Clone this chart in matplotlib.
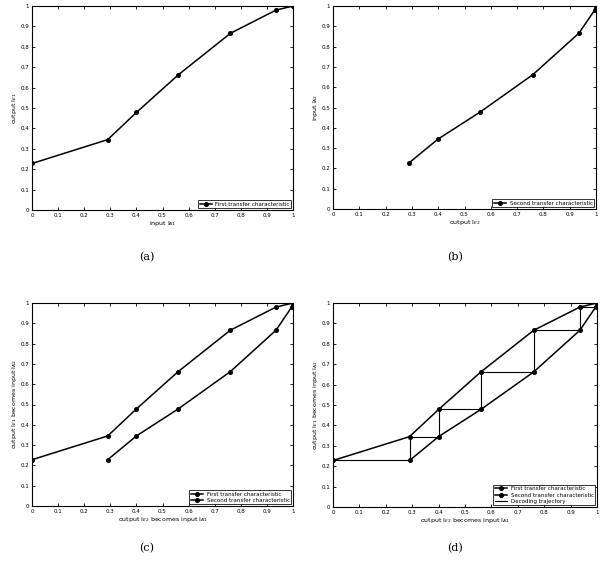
import matplotlib
matplotlib.use("Agg")
import matplotlib.pyplot as plt

# first transfer characteristic: input I_A1 -> output I_E1
first_x = [0.0, 0.29, 0.40, 0.56, 0.76, 0.935, 1.0]
first_y = [0.228, 0.345, 0.478, 0.662, 0.866, 0.98, 1.0]

# second transfer characteristic: output I_E2 vs input I_A2
second_x = [0.29, 0.40, 0.56, 0.76, 0.935, 0.995, 1.0]
second_y = [0.228, 0.345, 0.478, 0.662, 0.866, 0.98, 1.0]

ticks = [0, 0.1, 0.2, 0.3, 0.4, 0.5, 0.6, 0.7, 0.8, 0.9, 1]
tick_labels = ["0", "0.1", "0.2", "0.3", "0.4", "0.5", "0.6", "0.7", "0.8", "0.9", "1"]


def trajectory(fx, fy, sx):
    # staircase between the two curves
    tx, ty = [fx[0]], [fy[0]]
    for i in range(len(sx)):
        tx.append(sx[i]); ty.append(ty[-1])
        tx.append(sx[i]); ty.append(fy[i + 1] if i + 1 < len(fy) else fy[-1])
    return tx, ty


def style(ax, xlabel, ylabel):
    ax.set_xlim(0, 1)
    ax.set_ylim(0, 1)
    ax.set_xticks(ticks)
    ax.set_yticks(ticks)
    ax.set_xticklabels(tick_labels)
    ax.set_yticklabels(tick_labels)
    ax.tick_params(direction="in", length=2, width=0.6, labelsize=4,
                   top=True, right=True, pad=2)
    ax.set_xlabel(xlabel, fontsize=4.5, labelpad=1)
    ax.set_ylabel(ylabel, fontsize=4.5, labelpad=1)
    for s in ax.spines.values():
        s.set_linewidth(0.8)


def legend(ax):
    leg = ax.legend(loc="lower right", fontsize=4, frameon=True, fancybox=False,
                    borderpad=0.3, handlelength=2.2, labelspacing=0.2, numpoints=1,
                    borderaxespad=0.3, handletextpad=0.6)
    leg.get_frame().set_edgecolor("black")
    leg.get_frame().set_linewidth(0.7)


line_kw = dict(color="black", lw=1.1, marker="o", ms=2.6)

fig = plt.figure(figsize=(6.05, 5.74), dpi=100)
W, H = 605, 574
boxes = {"a": (32, 6, 293, 210), "b": (333, 6, 596, 209),
         "c": (32, 303, 293, 506), "d": (333, 303, 597, 507)}
axes = {}
for k, (l, t, r, b) in boxes.items():
    axes[k] = fig.add_axes([l / W, 1 - b / H, (r - l) / W, (b - t) / H])

ax = axes["a"]
ax.plot(first_x, first_y, label="First transfer characteristic", **line_kw)
style(ax, r"input I$_{A1}$", r"output I$_{E1}$")
legend(ax)

ax = axes["b"]
ax.plot(second_x, second_y, label="Second transfer characteristic", **line_kw)
style(ax, r"output I$_{E2}$", r"input I$_{A2}$")
legend(ax)

ax = axes["c"]
ax.plot(first_x, first_y, label="First transfer characteristic", **line_kw)
ax.plot(second_x, second_y, label="Second transfer characteristic", **line_kw)
style(ax, r"output I$_{E2}$ becomes input I$_{A1}$", r"output I$_{E1}$ becomes input I$_{A2}$")
legend(ax)

ax = axes["d"]
ax.plot(first_x, first_y, label="First transfer characteristic", **line_kw)
ax.plot(second_x, second_y, label="Second transfer characteristic", **line_kw)
tx, ty = trajectory(first_x, first_y, second_x)
ax.plot(tx, ty, color="black", lw=0.8, label="Decoding trajectory")
style(ax, r"output I$_{E2}$ becomes input I$_{A1}$", r"output I$_{E1}$ becomes input I$_{A2}$")
legend(ax)

for lab, x, y in [("(a)", 147, 257), ("(b)", 455, 257), ("(c)", 147, 548), ("(d)", 455, 548)]:
    fig.text(x / W, 1 - y / H, lab, ha="center", va="center", fontsize=8,
             family="DejaVu Serif")

fig.savefig("out.png", dpi=100)
